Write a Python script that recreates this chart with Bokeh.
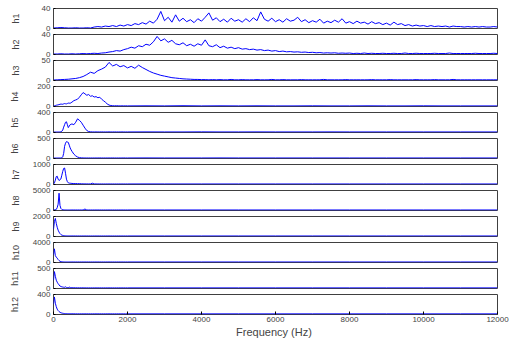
from bokeh.plotting import figure
from bokeh.layouts import column
from bokeh.models import Range1d, FixedTicker
from bokeh.embed import file_html
from bokeh.resources import INLINE

# Frequency grids (Hz)
freq_wide = list(range(0, 12001, 100))
freq_fine = list(range(0, 501, 25)) + list(range(550, 2001, 50)) + list(range(2500, 12001, 500))

x_ticks = [0, 2000, 4000, 6000, 8000, 10000, 12000]

# Magnitude spectra of the harmonic components
h1 = [0, 0.5, 1, 0.5, 0, 0, 0.5, 0, 0, 0.5, 0,
      2, 3, 2, 4, 3, 5, 3, 6, 4, 7,
      5, 9, 7, 11, 8, 14, 10, 18, 34, 15,
      22, 12, 27, 14, 20, 13, 17, 11, 19, 14,
      22, 31, 16, 21, 13, 18, 12, 20, 14, 17,
      12, 19, 13, 21, 15, 33, 18, 14, 20, 13,
      17, 12, 19, 14, 16, 22, 13, 17, 11, 15,
      12, 18, 10, 14, 11, 16, 12, 19, 10, 13,
      9, 14, 10, 12, 8, 13, 9, 11, 7, 10,
      6, 12, 7, 9, 5, 7, 4, 6, 4, 5,
      3, 5, 3, 4, 3, 4, 2, 4, 3, 3,
      2, 3, 2, 3, 2, 3, 2, 2, 3, 2]

h2 = [0, 0, 0.5, 0, 0, 0.5, 0, 0.5, 1, 0.5, 1,
      1.5, 1, 2, 2.5, 4, 5, 7, 6, 9, 11,
      14, 12, 17, 15, 20, 18, 25, 36, 27, 31,
      24, 28, 21, 19, 23, 17, 20, 16, 21, 18,
      29, 17, 15, 19, 13, 16, 12, 14, 11, 13,
      10, 11, 9, 10, 8, 9, 7, 8, 6, 7,
      5, 6, 4.5, 5, 4, 4.5, 3.5, 4, 3, 3.5,
      2.5, 3, 2, 2.5, 2, 2.5, 1.5, 2, 1.5, 2,
      1, 1.5, 1, 2, 1, 1.5, 1, 1, 1.5, 1,
      1, 1.5, 1, 1, 2, 1, 1, 1.5, 1, 1,
      1, 1, 1.5, 1, 1, 1, 2, 1, 1, 1,
      1, 1, 1, 1.5, 1, 1, 1, 1, 1.5, 1]

h3 = [0, 0.5, 1, 1.5, 2, 3, 4, 6, 9, 14,
      20, 17, 24, 28, 33, 45, 36, 40, 34, 37,
      31, 35, 30, 38, 32, 27, 22, 18, 15, 12,
      10, 8, 6, 5, 4, 3, 2.5, 2, 1.5, 1.5, 1,
      1, 0.5, 1, 0.5, 1, 0.5, 0.5, 1.5, 0.5, 0.5,
      1, 0.5, 0.5, 0.5, 1, 0.5, 0.5, 0.5, 1.5, 0.5,
      0.5, 1, 0.5, 0.5, 0.5, 0.5, 1, 0.5, 0.5, 0.5,
      0.5, 0.5, 1.5, 0.5, 0.5, 0.5, 0.5, 0.5, 1, 0.5,
      0.5, 0.5, 0.5, 0.5, 0.5, 1, 0.5, 0.5, 0.5, 0.5,
      1, 0.5, 0.5, 0.5, 0.5, 0.5, 0.5, 1, 0.5, 0.5,
      0.5, 0.5, 1, 0.5, 0.5, 0.5, 0.5, 1.5, 0.5, 0.5,
      0.5, 0.5, 0.5, 0.5, 0.5, 0.5, 0.5, 0.5, 0.5, 0.5]

h4 = [0, 2, 5, 8, 10, 12, 15, 17, 20, 19, 18, 22, 25, 23, 22, 26, 30, 29, 28, 34, 40,
      55, 62, 70, 90, 115, 138, 125, 110, 118, 100, 105, 92, 96, 85, 90, 70, 55, 40, 22, 10,
      5, 3, 2, 3, 2, 1, 2, 1, 2, 1,
      2, 1, 3, 1, 2, 1, 2, 1, 1, 2, 1, 1, 2, 1, 1, 2, 1, 1, 1, 1]

h5 = [0, 0, 0, 0, 0, 0, 0, 0, 5, 15, 40, 100, 150, 200, 210, 150, 90, 120, 150, 160, 165,
      150, 200, 270, 240, 200, 140, 80, 30, 10, 4, 2, 1, 2, 1, 1, 2, 1, 1, 1, 2,
      1, 1, 2, 1, 1, 1, 2, 1, 1, 1,
      2, 1, 1, 3, 1, 1, 2, 1, 1, 1, 2, 1, 1, 1, 1, 1, 1, 1, 1, 1]

h6 = [0, 0, 0, 0, 0, 0, 0, 0, 0, 5, 30, 120, 300, 380, 420, 410, 400, 330, 260, 210, 170,
      100, 55, 25, 10, 4, 2, 1, 1, 1, 1, 1, 1, 1, 1, 2, 1, 1, 1, 1, 1,
      1, 2, 1, 1, 1, 1, 1, 2, 1, 1,
      2, 1, 1, 1, 2, 1, 1, 1, 1, 1, 1, 1, 1, 1, 1, 1, 1, 1, 1, 1]

h7 = [0, 60, 200, 380, 400, 250, 180, 220, 260, 450, 650, 800, 820, 550, 250, 120, 60, 45, 40, 35, 30,
      20, 25, 15, 20, 10, 8, 6, 5, 4, 4, 40, 5, 4, 3, 3, 3, 2, 2, 2, 2,
      2, 2, 2, 2, 2, 2, 2, 2, 2, 2,
      3, 2, 2, 2, 2, 2, 2, 2, 2, 2, 2, 2, 2, 2, 2, 2, 2, 2, 2, 2]

h8 = [30, 60, 100, 150, 600, 1500, 4300, 1200, 400, 150, 80, 50, 30, 25, 20, 15, 15, 10, 10, 10, 10,
      10, 10, 10, 10, 10, 10, 250, 10, 10, 10, 10, 10, 10, 10, 10, 10, 10, 10, 10, 10,
      10, 10, 10, 10, 10, 10, 10, 10, 10, 10,
      10, 10, 10, 10, 10, 10, 10, 10, 10, 10, 10, 10, 10, 10, 10, 10, 10, 10, 10, 10]

h9 = [700, 1500, 1800, 1300, 900, 600, 400, 250, 150, 90, 60, 40, 30, 20, 15, 12, 10, 8, 8, 6, 6,
      5, 5, 4, 4, 4, 3, 3, 3, 3, 3, 3, 3, 3, 3, 3, 3, 3, 3, 3, 3,
      3, 3, 3, 3, 3, 3, 3, 3, 3, 3,
      3, 3, 3, 3, 3, 3, 3, 3, 3, 3, 3, 3, 3, 3, 3, 3, 3, 3, 3, 3]

h10 = [1500, 2700, 1300, 1000, 800, 500, 300, 150, 80, 50, 30, 20, 15, 12, 10, 8, 8, 6, 6, 5, 5,
       5, 4, 4, 4, 3, 3, 3, 3, 3, 3, 3, 3, 3, 3, 3, 3, 3, 3, 3, 3,
       3, 3, 3, 3, 3, 3, 3, 3, 3, 3,
       3, 3, 3, 3, 3, 3, 3, 3, 3, 3, 3, 3, 3, 3, 3, 3, 3, 3, 3, 3]

h11 = [200, 420, 300, 200, 150, 110, 80, 50, 40, 30, 25, 20, 18, 30, 15, 12, 10, 25, 8, 8, 6,
       6, 5, 5, 4, 4, 4, 3, 3, 3, 3, 3, 3, 3, 3, 3, 3, 3, 3, 3, 3,
       3, 3, 3, 3, 3, 3, 3, 3, 3, 3,
       3, 3, 3, 3, 3, 3, 3, 3, 3, 3, 3, 3, 3, 3, 3, 3, 3, 3, 3, 3]

h12 = [200, 350, 220, 150, 100, 70, 50, 35, 25, 20, 15, 12, 10, 8, 8, 6, 6, 5, 5, 4, 4,
       4, 3, 3, 3, 3, 3, 3, 3, 3, 3, 3, 3, 3, 3, 3, 3, 3, 3, 3, 3,
       3, 3, 3, 3, 3, 3, 3, 3, 3, 3,
       3, 3, 3, 3, 3, 3, 3, 3, 3, 3, 3, 3, 3, 3, 3, 3, 3, 3, 3, 3]

names = ["h1", "h2", "h3", "h4", "h5", "h6", "h7", "h8", "h9", "h10", "h11", "h12"]
y_tops = [40, 40, 50, 200, 400, 500, 1000, 5000, 2000, 4000, 500, 400]
series = [h1, h2, h3, h4, h5, h6, h7, h8, h9, h10, h11, h12]
grids = [freq_wide] * 3 + [freq_fine] * 9

FONT = "Liberation Sans"
PAD = 6  # border above/below each panel; neighbouring panels overlap by this much

figs = []
n = len(names)
for i in range(n):
    top = y_tops[i]
    first = i == 0
    last = i == n - 1
    p = figure(
        frame_width=444, frame_height=20,
        x_range=Range1d(0, 12000), y_range=Range1d(-0.025 * top, top),
        min_border_left=53, min_border_right=12,
        min_border_top=8 if first else PAD,
        min_border_bottom=32 if last else PAD,
        title=None, toolbar_location=None, output_backend="svg",
        x_axis_location="below" if last else None,
        background_fill_color="white", border_fill_color=None,
        margin=(0, 0, 0, 0) if first else (-PAD, 0, 0, 0),
    )
    p.grid.visible = False
    p.outline_line_color = "#404040"
    p.outline_line_width = 1

    p.line(grids[i], series[i], line_color="#0000ff", line_width=1)

    ya = p.yaxis[0]
    ya.ticker = FixedTicker(ticks=[0, top])
    ya.major_label_text_font = FONT
    ya.major_label_text_font_size = "8px"
    ya.major_label_standoff = 3
    ya.major_tick_in = 2
    ya.major_tick_out = 0
    ya.minor_tick_line_color = None
    ya.axis_line_color = None
    ya.axis_label = names[i]
    ya.axis_label_text_font = FONT
    ya.axis_label_text_font_size = "9px"
    ya.axis_label_text_font_style = "normal"
    label_w = 4.45 * len(str(top))
    ya.axis_label_standoff = int(round(27 - label_w))

    if last:
        xa = p.xaxis[0]
        xa.ticker = FixedTicker(ticks=x_ticks)
        xa.major_label_text_font = FONT
        xa.major_label_text_font_size = "8px"
        xa.major_label_standoff = 2
        xa.major_tick_in = 3
        xa.major_tick_out = 0
        xa.minor_tick_line_color = None
        xa.axis_line_color = None
        xa.axis_label = "Frequency  (Hz)"
        xa.axis_label_text_font = FONT
        xa.axis_label_text_font_size = "11px"
        xa.axis_label_text_font_style = "normal"
        xa.axis_label_standoff = 1

    figs.append(p)

layout = column(*figs, spacing=0)
open("out.html", "w").write(file_html(layout, INLINE))
